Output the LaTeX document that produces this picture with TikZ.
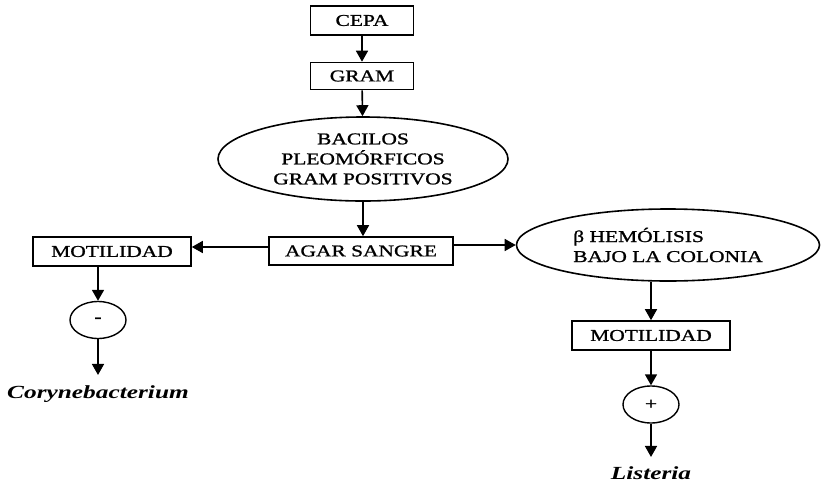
\documentclass[tikz,border=0pt]{standalone}
\usepackage{fontspec}
\setmainfont{Liberation Serif}[FakeStretch=1.3,FakeBold=1.2]
\newfontfamily\taxonfont{Liberation Serif}[FakeStretch=1.37]
\usetikzlibrary{arrows.meta,shapes.geometric}
\begin{document}
\begin{tikzpicture}[x=1pt,y=-1pt,
  every node/.style={font=\fontsize{16.5}{20}\selectfont},
  box/.style={draw,line width=1.6pt,inner sep=0pt,minimum height=28pt},
  oval/.style={draw,ellipse,line width=1.6pt,inner sep=0pt},
  sign/.style={draw,ellipse,line width=1.4pt,minimum width=56pt,minimum height=37pt,inner sep=0pt},
  taxon/.style={font=\taxonfont\fontsize{18.5}{20}\selectfont\bfseries\itshape,inner sep=0pt},
  arr/.style={line width=1.6pt,-{Triangle[width=12pt,length=11pt]}},
]
\useasboundingbox (0,0) rectangle (823,483);

% main column
\node[box,minimum width=103pt,minimum height=29pt] (cepa) at (362,20.5) {CEPA};
\node[box,minimum width=103pt,minimum height=27pt] (gram) at (362,76) {GRAM};
\node[oval,minimum width=290pt,minimum height=84pt,align=center] (bac) at (363,159)
  {BACILOS\\PLEOMÓRFICOS\\GRAM POSITIVOS};
\node[box,minimum width=184pt] (agar) at (361,251) {AGAR SANGRE};

% left branch
\node[box,minimum width=158pt,minimum height=29pt] (motA) at (112,251.5) {MOTILIDAD};
\node[sign] (neg) at (98,320) {-};
\node[taxon,anchor=base] (cory) at (98,398) {Corynebacterium};

% right branch
\node[oval,minimum width=303pt,minimum height=72pt,align=left] (hem) at (668,245)
  {β HEMÓLISIS\\BAJO LA COLONIA};
\node[box,minimum width=158pt,minimum height=29pt] (motB) at (651,335.5) {MOTILIDAD};
\node[sign] (pos) at (651,404.5) {+};
\node[taxon,anchor=base] (list) at (651,479) {Listeria};

% connectors
\draw[arr] (cepa) -- (gram);
\draw[arr] (gram) -- (bac);
\draw[arr] (bac.south) -- (bac.south |- agar.north);
\draw[arr] ([yshift=4pt]agar.west) -- ([yshift=4pt]agar.west -| motA.east);
\draw[arr] (agar.east |- hem.west) -- (hem.west);
\draw[arr] (motA.south -| neg.north) -- (neg.north);
\draw[arr,shorten >=10pt] (neg) -- (cory);
\draw[arr] (motB.north |- hem.south) -- (motB.north);
\draw[arr] (motB) -- (pos);
\draw[arr,shorten >=9pt] (pos) -- (list);
\end{tikzpicture}
\end{document}
